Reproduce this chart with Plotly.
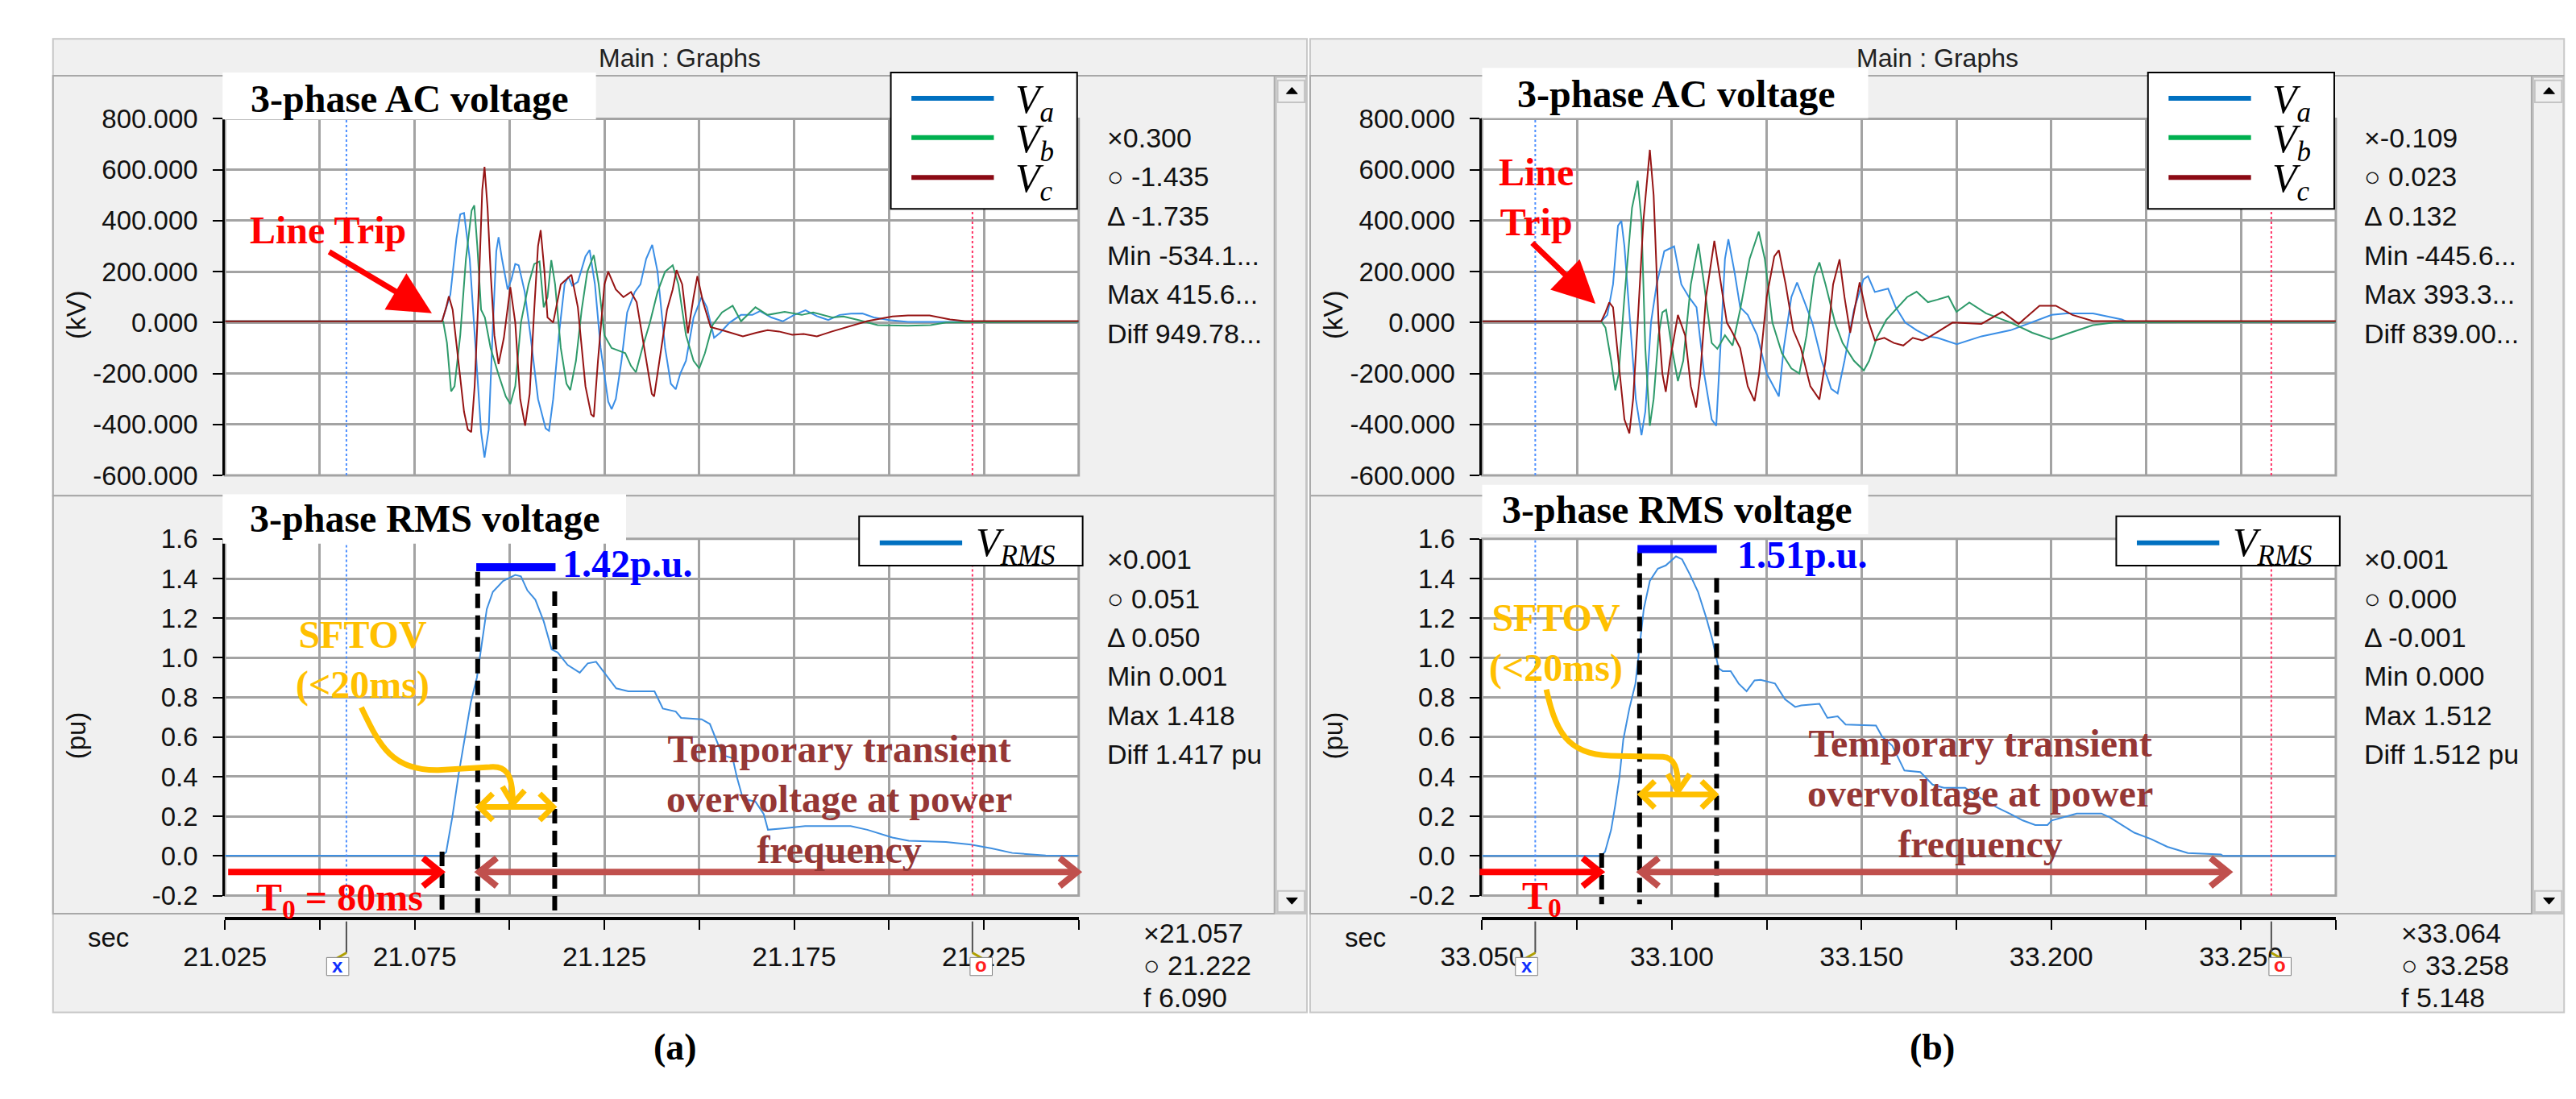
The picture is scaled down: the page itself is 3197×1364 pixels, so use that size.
import plotly.graph_objects as go

# ---- values ----
# times: ms after the left edge of each window; voltages in kV or pu
A_START, B_START = 21.025, 33.050
SPAN = 0.225
A_CURSORS = [21.057, 21.222]
B_CURSORS = [33.064, 33.258]
A_EVENTS = [21.0822, 21.0916, 21.1119]   # trip, SFTOV start, SFTOV end
B_EVENTS = [33.0815, 33.0915, 33.1118]

A_VA_MS = [0, 57.2, 59.4, 61.0, 62.0, 63.0, 64.5, 66.0, 67.5, 68.4, 69.5, 70.5, 71.5, 72.1, 73.0, 74.5, 75.5, 76.5, 77.4, 79.0,
           80.5, 82.5, 84.5, 85.4, 86.5, 88.0, 89.5, 90.5, 91.5, 93.0, 95.0, 96.1, 97.5, 99.0, 101.0, 101.9, 103.0, 104.5, 106.0,
           108.0, 109.5, 111.0, 112.6, 114.0, 116.0, 117.5, 118.8, 120.0, 121.5, 123.5, 125.6, 127.0, 128.9, 130.5, 133.0, 136.0,
           139.0, 141.0, 144.0, 147.0, 150.0, 153.0, 156.0, 159.0, 162.0, 165.0, 168.0, 171.0, 175.0, 180.0, 225.0]
A_VA_KV = [5, 5, 110, 330, 425, 430, 250, -100, -430, -530, -420, -50, 280, 335, 250, 130, 170, 230, 225, 120,
           -50, -300, -415, -425, -300, -50, 150, 180, 145, 160, 260, 285, 150, -100, -310, -340, -300, -150, 40,
           120, 150, 250, 305, 200, -100, -240, -262, -200, -150, 20, 100, 60, -60, -40, 0, 30,
           30, 45, 20, 5, 30, 48, 25, 10, 30, 35, 36, 20, 10, 3, 3]
A_VB_MS = [0, 57.5, 58.5, 59.6, 60.5, 62.0, 63.5, 65.0, 65.7, 66.5, 67.5, 68.5, 70.0, 72.0, 74.0, 75.2, 76.5, 78.0, 80.0, 81.5,
           82.9, 84.0, 85.0, 86.0, 87.0, 88.5, 90.0, 91.0, 92.5, 94.0, 95.5, 97.2, 98.5, 100.0, 101.9, 103.5, 105.5, 107.0, 108.3,
           110.0, 112.0, 114.0, 116.0, 118.0, 119.5, 121.5, 123.5, 125.0, 126.5, 128.5, 131.0, 133.8, 136.0, 139.8, 143.0, 147.5,
           152.0, 155.0, 160.0, 163.0, 167.0, 172.0, 180.0, 186.0, 190.0, 225.0]
A_VB_KV = [5, 5, -80, -270, -250, -50, 250, 440, 460, 300, 50, 20, -100, -200, -290, -320, -250, 0, 150, 230,
           240, 60, 100, 245, 150, -100, -240, -265, -150, 50, 200, 265, 150, -50, -100, -110, -120, -170, -195,
           -100, 0, 120, 200, 225, 150, -50, -150, -180, -120, -10, 40, 66, 5, 60, 30, 42,
           30, 40, 20, 24, 10, -10, -12, -10, 0, 3]
A_VC_MS = [0, 57.2, 58.3, 59.0, 60.0, 61.5, 63.0, 64.0, 64.9, 65.8, 66.8, 67.8, 68.4, 69.2, 70.0, 71.0, 72.1, 73.5, 75.2, 76.5,
           77.8, 79.1, 80.3, 81.5, 82.5, 83.2, 84.2, 85.0, 86.5, 88.5, 91.3, 93.0, 95.0, 96.5, 97.2, 98.3, 100.0, 101.0, 103.0,
           105.0, 107.0, 108.5, 110.5, 112.5, 113.1, 114.5, 116.5, 118.0, 119.0, 120.5, 122.0, 123.5, 124.5, 126.0, 128.0, 131.0,
           136.5, 140.0, 143.0, 146.0, 149.5, 152.5, 156.0, 160.0, 163.8, 169.3, 175.9, 180.0, 185.7, 191.1, 195.0, 225.0]
A_VC_KV = [5, 5, 60, 103, 50, -150, -350, -420, -430, -250, 100, 520, 611, 450, 200, -50, -163, -60, 139, 0,
           -300, -405, -280, 50, 300, 363, 200, 20, 0, 150, 188, 60, -250, -360, -370, -150, 150, 200, 130,
           100, 120, 80, -100, -280, -290, -150, 50, 130, 206, 150, -42, 100, 182, 80, -18, -30,
           -54, -40, -30, -35, -48, -45, -54, -35, -18, 6, 24, 28, 28, 12, 6, 6]
A_RMS_MS = [0, 57.2, 58.3, 59.9, 61.6, 63.2, 64.8, 66.4, 67.4, 69.0, 70.6, 73.3, 76.5, 78.0, 79.7, 81.8, 84.0, 86.1, 87.7, 90.3,
            93.5, 95.6, 97.8, 101.0, 103.1, 106.3, 113.2, 115.4, 118.8, 120.2, 125.6, 127.8, 129.4, 131.1, 133.8, 134.9, 136.5,
            139.8, 142.0, 143.1, 147.5, 152.9, 164.9, 169.3, 175.9, 180.2, 190.0, 196.6, 202.1, 207.5, 216.3, 225.0]
A_RMS_PU = [0.001, 0.001, 0.02, 0.195, 0.415, 0.587, 0.776, 0.901, 1.042, 1.246, 1.333, 1.388, 1.418, 1.411, 1.34, 1.293, 1.184,
            1.042, 1.027, 0.964, 0.925, 0.972, 0.98, 0.901, 0.846, 0.831, 0.831, 0.744, 0.729, 0.697, 0.69, 0.666, 0.587, 0.509,
            0.493, 0.399, 0.289, 0.274, 0.211, 0.132, 0.14, 0.151, 0.151, 0.132, 0.093, 0.077, 0.07, 0.057, 0.038, 0.015,
            0.002, 0.001]

B_VA_MS = [0, 31.4, 33.0, 34.5, 35.8, 36.7, 37.5, 39.0, 40.5, 42.0, 43.0, 44.5, 46.0, 48.0, 50.6, 52.5, 54.5, 56.5, 58.5, 60.5,
           61.7, 62.8, 64.0, 64.9, 66.5, 68.0, 70.0, 72.5, 75.0, 78.2, 79.5, 81.5, 83.0, 85.0, 87.0, 89.5, 92.0, 93.7, 95.5,
           98.0, 100.5, 101.7, 103.5, 107.0, 109.0, 111.5, 114.5, 117.5, 120.0, 125.1, 131.6, 139.3, 144.7, 150.1, 154.0,
           161.0, 168.6, 170.0, 225.0]
B_VA_KV = [5, 5, 30, 150, 380, 399, 300, 0, -300, -442, -350, 0, 150, 280, 299, 150, 100, 60, -200, -380,
           -405, -100, 250, 327, 200, 60, 30, -50, -200, -290, -100, 100, 157, 80, 0, -150, -260, -278, -150,
           50, 170, 182, 120, 133, 60, 0, -30, -54, -60, -85, -54, -30, 0, 30, 36,
           36, 12, 3, 3]
B_VB_MS = [0, 31.4, 32.5, 34.0, 35.1, 36.0, 37.5, 39.5, 41.0, 42.0, 43.0, 44.2, 45.2, 46.5, 47.5, 48.5, 50.0, 51.6, 53.0, 55.0,
           57.0, 58.5, 60.5, 62.0, 64.0, 66.0, 68.0, 70.5, 72.9, 74.5, 76.5, 79.0, 81.5, 83.6, 85.5, 87.5, 88.9, 90.5, 93.0,
           95.0, 98.0, 100.6, 102.0, 104.0, 106.5, 109.0, 112.0, 114.5, 117.5, 120.0, 122.9, 125.0, 128.4, 132.8, 139.3,
           145.0, 150.1, 155.0, 161.0, 166.5, 225.0]
B_VB_KV = [5, 5, -20, -150, -266, -200, 100, 450, 557, 400, -100, -405, -300, -50, 40, 50, -100, -230, -150, 150,
           309, 150, -80, -103, -50, -90, 50, 250, 357, 250, 0, -120, -180, -200, -50, 180, 236, 150, 0,
           -80, -150, -188, -150, -60, 10, 50, 100, 121, 80, 90, 103, 42, 79, 36, 0,
           -40, -66, -40, -10, 0, 3]
B_VC_MS = [0, 31.4, 32.5, 33.5, 34.5, 36.0, 37.5, 38.8, 39.8, 41.0, 42.5, 44.2, 45.2, 46.5, 47.5, 48.4, 49.5, 51.6, 53.5, 55.0,
           56.4, 57.5, 59.0, 61.2, 62.5, 64.5, 66.0, 68.0, 70.0, 71.8, 73.0, 75.0, 77.0, 78.2, 80.0, 82.0, 84.0, 86.5, 88.9,
           90.5, 92.5, 94.2, 95.5, 97.0, 99.5, 101.5, 103.5, 106.0, 108.5, 111.0, 113.5, 116.0, 117.5, 124.0, 131.6,
           137.1, 141.4, 146.9, 151.2, 155.6, 161.0, 225.0]
B_VC_KV = [5, 5, 40, 79, 60, -150, -380, -435, -300, 0, 400, 678, 500, 0, -200, -272, -150, 30, -50, -250,
           -333, -200, 100, 321, 200, 0, -40, -100, -250, -308, -200, 100, 260, 284, 150, -30, -100, -250, -302,
           -150, 150, 248, 100, -40, 158, 20, -70, -60, -80, -90, -60, -70, -60, 0, -5,
           42, -5, 66, 66, 30, 6, 6]
B_RMS_MS = [0, 31.4, 32.4, 34.0, 35.1, 36.2, 37.2, 38.8, 40.4, 41.5, 42.6, 44.2, 46.3, 48.4, 51.1, 52.7, 54.8, 56.9, 59.1, 60.7,
            62.3, 63.4, 65.5, 67.6, 69.7, 71.8, 73.4, 77.2, 79.8, 82.5, 84.1, 88.9, 91.0, 93.7, 95.8, 103.8, 105.4, 108.1,
            111.3, 115.5, 118.7, 121.7, 127.3, 131.6, 136.0, 139.3, 142.5, 145.8, 149.0, 150.1, 154.5, 156.7, 163.2, 165.4,
            168.6, 171.9, 176.3, 180.6, 186.0, 194.7, 195.3, 225.0]
B_RMS_PU = [0.0, 0.0, 0.022, 0.132, 0.258, 0.399, 0.587, 0.744, 0.87, 1.058, 1.246, 1.388, 1.45, 1.466, 1.512, 1.497, 1.419,
            1.333, 1.2, 1.09, 0.948, 0.933, 0.933, 0.87, 0.831, 0.886, 0.889, 0.87, 0.791, 0.752, 0.76, 0.768, 0.697, 0.705,
            0.663, 0.658, 0.603, 0.556, 0.431, 0.423, 0.36, 0.344, 0.344, 0.289, 0.242, 0.211, 0.179, 0.156, 0.156, 0.179,
            0.203, 0.214, 0.214, 0.195, 0.156, 0.117, 0.085, 0.046, 0.015, 0.007, 0.0, 0.0]

KV_TICKS = [-600, -400, -200, 0, 200, 400, 600, 800]
PU_TICKS = [-0.2, 0.0, 0.2, 0.4, 0.6, 0.8, 1.0, 1.2, 1.4, 1.6]
A_XLABELS = ["21.025", "", "21.075", "", "21.125", "", "21.175", "", "21.225", ""]
B_XLABELS = ["33.050", "", "33.100", "", "33.150", "", "33.200", "", "33.250", ""]

A_SIDE_TOP = ["×0.300", "○ -1.435", "Δ -1.735", "Min -534.1...", "Max 415.6...", "Diff 949.78..."]
A_SIDE_BOT = ["×0.001", "○ 0.051", "Δ 0.050", "Min 0.001", "Max 1.418", "Diff 1.417 pu"]
A_SIDE_AX = ["×21.057", "○ 21.222", "f 6.090"]
B_SIDE_TOP = ["×-0.109", "○ 0.023", "Δ 0.132", "Min -445.6...", "Max 393.3...", "Diff 839.00..."]
B_SIDE_BOT = ["×0.001", "○ 0.000", "Δ -0.001", "Min 0.000", "Max 1.512", "Diff 1.512 pu"]
B_SIDE_AX = ["×33.064", "○ 33.258", "f 5.148"]

# ---- geometry (pixels of the 3197 x 1364 page) ----
W, H = 3197, 1364
PLOT_X = (231, 1308)
TOP_Y = (133, 588)
BOT_Y = (669, 1124)
AXIS_Y = 1153
SANS = "Liberation Sans, Arial, sans-serif"
SERIF = "Liberation Serif, Times New Roman, serif"
GRID = "#a3a3a3"
PHASE_COLORS = ["#3a8ee6", "#2e9a6a", "#961414"]
LEG_COLORS = ["#0070c0", "#00b050", "#8b0a14"]
RED, BROWN, BROWN_TXT, ORANGE, BLUE = "#ff0000", "#c0504d", "#953735", "#ffc000", "#0000ff"


def px(x):
    return x / W


def py(y):
    return 1 - y / H


def P(x, y):
    return f"{px(x):.6f},{py(y):.6f}"


shapes, annots = [], []


def rect(x0, y0, x1, y1, fill="rgba(0,0,0,0)", line=None, lw=2, layer="below"):
    shapes.append(dict(type="rect", xref="paper", yref="paper", x0=px(x0), x1=px(x1), y0=py(y1), y1=py(y0),
                       fillcolor=fill, layer=layer,
                       line=dict(color=line or "rgba(0,0,0,0)", width=lw if line else 0)))


def seg(x0, y0, x1, y1, color, w, dash=None, layer="above"):
    shapes.append(dict(type="line", xref="paper", yref="paper", x0=px(x0), x1=px(x1), y0=py(y0), y1=py(y1),
                       layer=layer, line=dict(color=color, width=w, dash=dash)))


def poly(pts, color, w, closed=False, fill=None):
    d = "M " + " L ".join(P(x, y) for x, y in pts) + (" Z" if closed else "")
    shapes.append(dict(type="path", xref="paper", yref="paper", path=d, layer="above",
                       fillcolor=fill or "rgba(0,0,0,0)", line=dict(color=color, width=w)))


def txt(s, x, y, size, color="#111111", family=SANS, xanchor="center", angle=0):
    annots.append(dict(text=s, x=px(x), y=py(y), xref="paper", yref="paper", showarrow=False,
                       xanchor=xanchor, yanchor="middle", textangle=angle,
                       font=dict(family=family, size=size, color=color)))


DECOR = [
    dict(trip_text="<b>Line Trip</b>", trip_xy=(361, 275), trip_tail=(363, 304), trip_head=(492, 381),
         bar=(548, 648, 705), peak="<b>1.42p.u.</b>", peak_xy=(655, 701), dash_tops=(1068, 711, 736), dash_bot=1151,
         t0_from=235, t0_text="<b>T<sub>0</sub> = 80ms</b>", t0_xy=(268, 1130), brown_end=1306,
         tt_xy=(1006, 1001), sf_xy=(405, 823), sf_y=1011,
         curve=[(403, 884), (425, 930), (440, 965), (500, 964), (565, 960), (585, 958), (594, 968), (594, 1004)],
         head=[(581, 985), (594, 1007), (609, 990)],
         ac_box=(228, 74, 699, 134), ac_text=(464, 107), rms_box=(228, 612, 737, 675), rms_text=(483, 643)),
    dict(trip_text="<b>Line<br>Trip</b>", trip_xy=(1885, 233), trip_tail=(1880, 292), trip_head=(1960, 369),
         bar=(2013, 2113, 682), peak="<b>1.51p.u.</b>", peak_xy=(2137, 689), dash_tops=(1070, 685, 719), dash_bot=1135,
         t0_from=1814, t0_text="<b>T<sub>0</sub></b>", t0_xy=(1865, 1128), brown_end=2758,
         tt_xy=(2445, 994), sf_xy=(1910, 802), sf_y=995,
         curve=[(1898, 861), (1912, 925), (1930, 946), (1990, 946), (2045, 947), (2060, 948), (2064, 962), (2064, 986)],
         head=[(2051, 969), (2064, 991), (2079, 969)],
         ac_box=(1817, 68, 2304, 132), ac_text=(2062, 101), rms_box=(1817, 600, 2304, 663), rms_text=(2063, 632)),
]

PANELS = [
    dict(start=A_START, dx=0, ids=("", "2"), phases=[(A_VA_MS, A_VA_KV), (A_VB_MS, A_VB_KV), (A_VC_MS, A_VC_KV)],
         rms=(A_RMS_MS, A_RMS_PU), cursors=A_CURSORS, events=A_EVENTS, xlabels=A_XLABELS,
         side=(A_SIDE_TOP, A_SIDE_BOT, A_SIDE_AX), label="(a)", deco=DECOR[0]),
    dict(start=B_START, dx=1586, ids=("3", "4"), phases=[(B_VA_MS, B_VA_KV), (B_VB_MS, B_VB_KV), (B_VC_MS, B_VC_KV)],
         rms=(B_RMS_MS, B_RMS_PU), cursors=B_CURSORS, events=B_EVENTS, xlabels=B_XLABELS,
         side=(B_SIDE_TOP, B_SIDE_BOT, B_SIDE_AX), label="(b)", deco=DECOR[1]),
]

fig = go.Figure()
layout = dict(width=W, height=H, margin=dict(l=0, r=0, t=0, b=0), paper_bgcolor="white",
              plot_bgcolor="white", showlegend=False)

for p in PANELS:
    dx, start, d = p["dx"], p["start"], p["deco"]
    top, bot = p["ids"]

    def tx(t):
        return PLOT_X[0] + dx + (t - start) / SPAN * (PLOT_X[1] - PLOT_X[0])

    xdom = [px(PLOT_X[0] + dx), px(PLOT_X[1] + dx)]
    xticks = [start + 0.025 * i for i in range(10)]
    xrange = [start - 1e-7, start + SPAN + 1e-7]

    # window chrome
    rect(14 + dx, 31, 1596 + dx, 1273, fill="#f0f0f0", line="#c8c8c8")
    rect(14 + dx, 78, 1555 + dx, 614, fill="#f0f0f0", line="#a8a8a8")
    rect(14 + dx, 614, 1555 + dx, 1147, fill="#f0f0f0", line="#a8a8a8")
    seg(14 + dx, 78, 1596 + dx, 78, "#a8a8a8", 2, layer="below")
    rect(1557 + dx, 80, 1595 + dx, 1147, fill="#f0f0f0", line="#c4c4c4")
    rect(1559 + dx, 84, 1593 + dx, 112, fill="#f0f0f0", line="#c4c4c4")
    rect(1559 + dx, 1118, 1593 + dx, 1145, fill="#f0f0f0", line="#c4c4c4")
    poly([(1570 + dx, 101), (1577 + dx, 93), (1584 + dx, 101)], "black", 1, closed=True, fill="black")
    poly([(1570 + dx, 1127), (1577 + dx, 1135), (1584 + dx, 1127)], "black", 1, closed=True, fill="black")
    for y0, y1 in (TOP_Y, BOT_Y):
        rect(PLOT_X[0] + dx, y0, PLOT_X[1] + dx, y1, fill="white", line=GRID, lw=3)
    txt("Main : Graphs", 805 + dx, 55, 32, "#222222")

    # traces
    for (ms, kv), col in zip(p["phases"], PHASE_COLORS):
        fig.add_trace(go.Scatter(x=[start + m / 1000 for m in ms], y=kv, mode="lines",
                                 line=dict(color=col, width=2), xaxis="x" + top, yaxis="y" + top,
                                 hoverinfo="skip"))
    ms, pu = p["rms"]
    fig.add_trace(go.Scatter(x=[start + m / 1000 for m in ms], y=pu, mode="lines",
                             line=dict(color="#3f8fe0", width=2), xaxis="x" + bot, yaxis="y" + bot,
                             hoverinfo="skip"))

    # axes
    grid = dict(showgrid=True, gridcolor=GRID, gridwidth=3, zeroline=False)
    layout["xaxis" + top] = dict(domain=xdom, range=xrange, tickvals=xticks, showticklabels=False, ticks="",
                                 anchor="y" + top, **grid)
    layout["xaxis" + bot] = dict(domain=xdom, range=xrange, tickvals=xticks, ticktext=p["xlabels"],
                                 anchor="free", position=py(AXIS_Y), showline=True, linecolor="black",
                                 linewidth=4, ticks="outside", ticklen=12, tickwidth=2, tickcolor="black",
                                 tickfont=dict(family=SANS, size=34, color="#111111"), ticklabelstandoff=4,
                                 **grid)
    yax = dict(showline=True, linecolor="black", linewidth=3, ticks="outside", ticklen=12, tickwidth=2,
               tickcolor="black", tickfont=dict(family=SANS, size=33, color="#111111"), ticklabelstandoff=12,
               **grid)
    layout["yaxis" + top] = dict(domain=[py(TOP_Y[1]), py(TOP_Y[0])], range=[-600, 800], anchor="x" + top,
                                 tickvals=KV_TICKS, ticktext=[f"{v:.3f}" for v in KV_TICKS], **yax)
    layout["yaxis" + bot] = dict(domain=[py(BOT_Y[1]), py(BOT_Y[0])], range=[-0.2, 1.6], anchor="x" + bot,
                                 tickvals=PU_TICKS, ticktext=[f"{v:.1f}" for v in PU_TICKS], **yax)
    txt("(kV)", 43 + dx, 383, 33, angle=-90)
    txt("(pu)", 43 + dx, 920, 33, angle=-90)
    txt("sec", 84 + dx, 1177, 33)

    # cursors
    for t, col in zip(p["cursors"], ("#4d8fff", "#ff3366")):
        for yid in (top, bot):
            shapes.append(dict(type="line", xref="x" + yid, yref="y" + yid + " domain", x0=t, x1=t, y0=0, y1=1,
                               layer="above", line=dict(color=col, width=2, dash="dot")))
    bx, ox = tx(p["cursors"][0]), tx(p["cursors"][1])
    seg(bx, 1157, bx, 1197, "#505050", 2)
    seg(bx, 1197, bx - 12, 1204, "#b0a000", 3)
    rect(bx - 25, 1203, bx + 3, 1226, fill="white", line="#808080", lw=1, layer="above")
    txt("<b>x</b>", bx - 11, 1213, 24, "#1030ff")
    seg(ox, 1157, ox, 1197, "#505050", 2)
    seg(ox, 1197, ox + 12, 1204, "#b0a000", 3)
    rect(ox - 3, 1203, ox + 25, 1226, fill="white", line="#808080", lw=1, layer="above")
    txt("<b>o</b>", ox + 11, 1212, 24, "#ff2020")

    # side readouts
    side_top, side_bot, side_ax = p["side"]
    for i, s in enumerate(side_top):
        txt(s, 1342 + dx, 157 + 50 * i, 34, xanchor="left")
    for i, s in enumerate(side_bot):
        txt(s, 1342 + dx, 695 + 49.8 * i, 34, xanchor="left")
    for i, s in enumerate(side_ax):
        txt(s, 1388 + dx, 1172 + 41 * i, 34, xanchor="left")

    # legends
    rect(1071 + dx, 74, 1306 + dx, 248, fill="white", line="black", lw=2, layer="above")
    for i, (col, sub) in enumerate(zip(LEG_COLORS, ("a", "b", "c"))):
        yl = [107, 157, 208][i]
        seg(1097 + dx, yl, 1201 + dx, yl, col, 6)
        txt(f"<i>V<sub>{sub}</sub></i>", 1226 + dx, yl + 5, 50, "black", SERIF, xanchor="left")
    rect(1031 + dx, 640, 1313 + dx, 703, fill="white", line="black", lw=2, layer="above")
    seg(1057 + dx, 674, 1161 + dx, 674, "#0070c0", 6)
    txt("<i>V<sub>RMS</sub></i>", 1176 + dx, 677, 50, "black", SERIF, xanchor="left")

    # title boxes
    x0, y0, x1, y1 = d["ac_box"]
    rect(x0, y0, x1, y1, fill="white", layer="above")
    txt("<b>3-phase AC voltage</b>", *d["ac_text"], 48, "black", SERIF)
    x0, y0, x1, y1 = d["rms_box"]
    rect(x0, y0, x1, y1, fill="white", layer="above")
    txt("<b>3-phase RMS voltage</b>", *d["rms_text"], 48, "black", SERIF)

    # annotations on the waveforms
    txt(d["trip_text"], *d["trip_xy"], 48, RED, SERIF)
    hx, hy = d["trip_head"]
    annots.append(dict(x=px(hx), y=py(hy), xref="paper", yref="paper", text="", showarrow=True,
                       ax=d["trip_tail"][0] - hx, ay=d["trip_tail"][1] - hy, arrowhead=2, arrowsize=1.5,
                       arrowwidth=7, arrowcolor=RED))

    trip_x, sf0, sf1 = (tx(t) for t in p["events"])
    for xx, ytop in zip((trip_x, sf0, sf1), d["dash_tops"]):
        seg(xx, ytop, xx, d["dash_bot"], "black", 6, dash="18px,9px")
    bx0, bx1, by = d["bar"]
    seg(bx0, by, bx1, by, BLUE, 10)
    txt(d["peak"], *d["peak_xy"], 48, BLUE, SERIF, xanchor="left")

    ay = 1094
    seg(d["t0_from"], ay, trip_x - 3, ay, RED, 8)
    poly([(trip_x - 24, ay - 18), (trip_x - 2, ay), (trip_x - 24, ay + 18)], RED, 8)
    txt(d["t0_text"], *d["t0_xy"], 48, RED, SERIF, xanchor="left")

    seg(sf0 + 2, ay, d["brown_end"], ay, BROWN, 8)
    poly([(sf0 + 24, ay - 18), (sf0 + 2, ay), (sf0 + 24, ay + 18)], BROWN, 8)
    be = d["brown_end"]
    poly([(be - 22, ay - 18), (be, ay), (be - 22, ay + 18)], BROWN, 8)
    txt("<b>Temporary transient<br>overvoltage at power<br>frequency</b>", *d["tt_xy"], 48, BROWN_TXT, SERIF)

    txt("<b>SFTOV<br>(&lt;20ms)</b>", *d["sf_xy"], 48, ORANGE, SERIF)
    c = d["curve"]
    path = (f"M {P(*c[0])} C {P(*c[1])} {P(*c[2])} {P(*c[3])} L {P(*c[4])} "
            f"C {P(*c[5])} {P(*c[6])} {P(*c[7])}")
    shapes.append(dict(type="path", xref="paper", yref="paper", path=path, layer="above",
                       line=dict(color=ORANGE, width=7)))
    poly(d["head"], ORANGE, 7)
    sy = d["sf_y"]
    seg(sf0 + 2, sy, sf1 - 2, sy, ORANGE, 7)
    poly([(sf0 + 19, sy - 17), (sf0 + 2, sy), (sf0 + 19, sy + 17)], ORANGE, 7)
    poly([(sf1 - 19, sy - 17), (sf1 - 2, sy), (sf1 - 19, sy + 17)], ORANGE, 7)

    txt(f"<b>{p['label']}</b>", 799 + dx, 1317, 46, "black", SERIF)

layout["shapes"] = shapes
layout["annotations"] = annots
fig.update_layout(**layout)
fig.write_html("out.html", config={"displayModeBar": False},
               post_script="document.body.style.margin='0px';")
